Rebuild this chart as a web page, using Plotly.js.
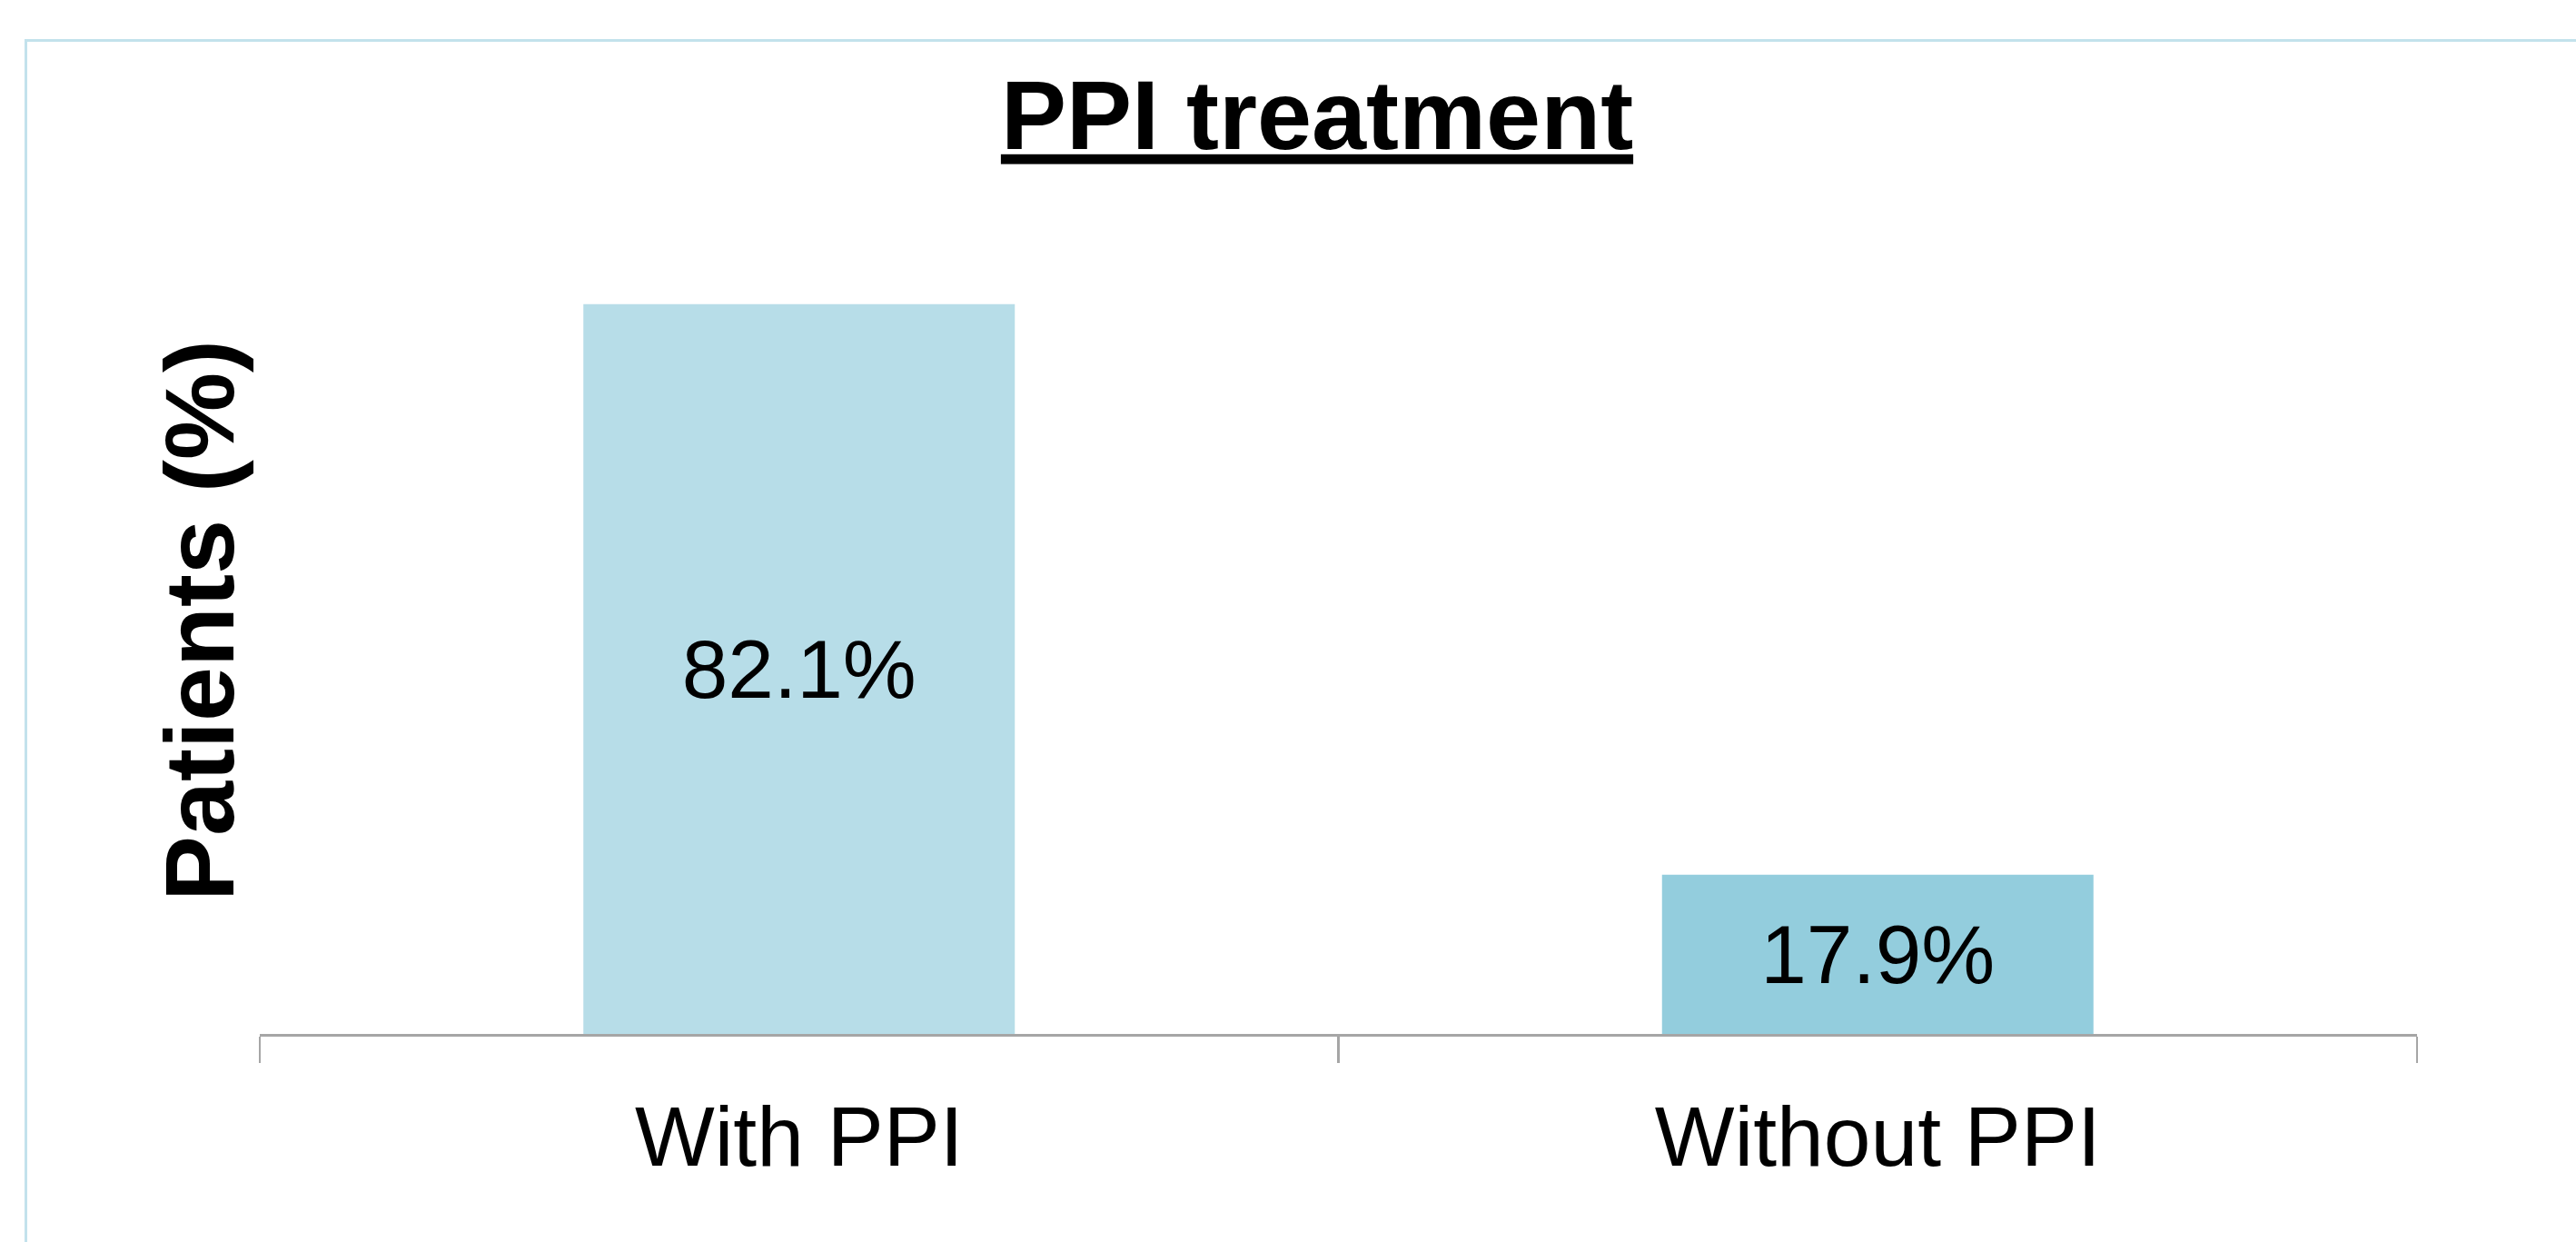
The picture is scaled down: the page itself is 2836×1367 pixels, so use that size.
<!DOCTYPE html>
<html><head><meta charset="utf-8">
<script src="https://cdn.plot.ly/plotly-3.0.1.min.js"></script>
<style>
html,body{margin:0;padding:0;background:#fff;overflow:hidden}
#chart{width:2836px;height:1367px;position:absolute;left:0;top:0}
#frame{position:absolute;left:27px;top:43px;width:3000px;height:2000px;border-left:3px solid #c3e2ec;border-top:3px solid #c3e2ec;pointer-events:none}
</style></head><body>
<div id="chart"></div><div id="frame"></div>
<script>
const categories = ['With PPI', 'Without PPI'];
const values = [82.1, 17.9];
const valueLabels = ['82.1%', '17.9%'];
const barColors = ['#B7DDE8', '#93CDDD'];
const chartTitle = 'PPI treatment';
const yTitle = 'Patients (%)';

const FONT = 'Liberation Sans, Arial, Helvetica, sans-serif';

const trace = {
  type: 'bar',
  x: categories,
  y: values,
  text: valueLabels,
  textposition: 'inside',
  insidetextanchor: 'middle',
  textangle: 0,
  constraintext: 'none',
  textfont: {family: FONT, size: 91, color: '#000000'},
  marker: {color: barColors, line: {width: 0}},
  hoverinfo: 'none'
};

const layout = {
  width: 2836, height: 1367,
  paper_bgcolor: 'rgba(0,0,0,0)', plot_bgcolor: 'rgba(0,0,0,0)',
  margin: {l: 286, r: 175, t: 228, b: 229, pad: 0},
  showlegend: false,
  bargap: 0.6,
  font: {family: FONT, color: '#000000'},
  title: {
    text: '<span style="text-decoration:underline;text-decoration-thickness:12px;text-underline-offset:9px">' + chartTitle + '</span>',
    font: {family: FONT, size: 108, weight: 'bold', color: '#000000'},
    xref: 'container', yref: 'container',
    x: 1450 / 2836, xanchor: 'center',
    y: 1 - 126 / 1367, yanchor: 'middle'
  },
  xaxis: {
    type: 'category',
    range: [-0.5, 1.5],
    domain: [0, 1],
    tickson: 'boundaries',
    ticks: 'outside', ticklen: 29, tickwidth: 2.5, tickcolor: '#a6a6a6',
    ticklabelstandoff: 31,
    showline: true, linecolor: '#a6a6a6', linewidth: 2.5,
    showgrid: false, zeroline: false,
    tickfont: {family: FONT, size: 93, color: '#000000'}
  },
  yaxis: {
    range: [0, 93],
    anchor: 'free', position: 0.004,
    showline: false, showgrid: false, zeroline: false,
    ticks: '', showticklabels: false,
    title: {
      text: yTitle,
      font: {family: FONT, size: 108, weight: 'bold', color: '#000000'},
      standoff: 0
    }
  }
};

Plotly.newPlot('chart', [trace], layout, {staticPlot: true, displayModeBar: false});
</script>
</body></html>
